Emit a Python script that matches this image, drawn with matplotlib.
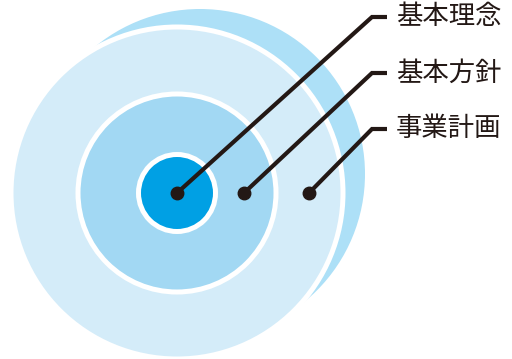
import matplotlib.pyplot as plt
from matplotlib.patches import Circle

plt.rcParams['font.family'] = ['Noto Sans CJK JP', 'DejaVu Sans']

# labels from inner to outer ring
labels = ["基本理念", "基本方針", "事業計画"]
ring_radii = [38.5, 99, 166]        # radius of each ring (px, centre of white border)
ring_colors = ["#00a0e4", "#a2d8f3", "#d4ecf9"]
dot_x = [177, 244, 309]             # where each leader line starts
knee_y = [17, 73, 129]              # label rows


def draw_target(ax, cx, cy):
    # offset back disc
    ax.add_patch(Circle((cx + 23, cy - 19), 165, facecolor="#ade0f7", edgecolor="none"))
    # rings, outermost first, each with a white border
    for r, c in zip(ring_radii[::-1], ring_colors[::-1]):
        ax.add_patch(Circle((cx, cy), r, facecolor=c, edgecolor="white", linewidth=3.6, zorder=2))


def draw_leaders(ax, cy):
    for x0, ky, text in zip(dot_x, knee_y, labels):
        ax.plot([x0, 372, 387], [cy, ky, ky], color="#231815", linewidth=3,
                solid_joinstyle="miter", solid_capstyle="butt", zorder=3)
        ax.plot(x0, cy, "o", color="#231815", markersize=9, zorder=4)
        ax.text(396, ky, text, fontsize=19, color="#231815", va="center", ha="left")


def main():
    fig = plt.figure(figsize=(5.12, 3.59), dpi=100)
    ax = fig.add_axes([0, 0, 1, 1])
    ax.set_xlim(0, 512)
    ax.set_ylim(359, 0)
    ax.set_aspect("equal")
    ax.axis("off")

    draw_target(ax, 177, 193)
    draw_leaders(ax, 193)

    fig.savefig("out.png", dpi=100)


if __name__ == "__main__":
    main()
